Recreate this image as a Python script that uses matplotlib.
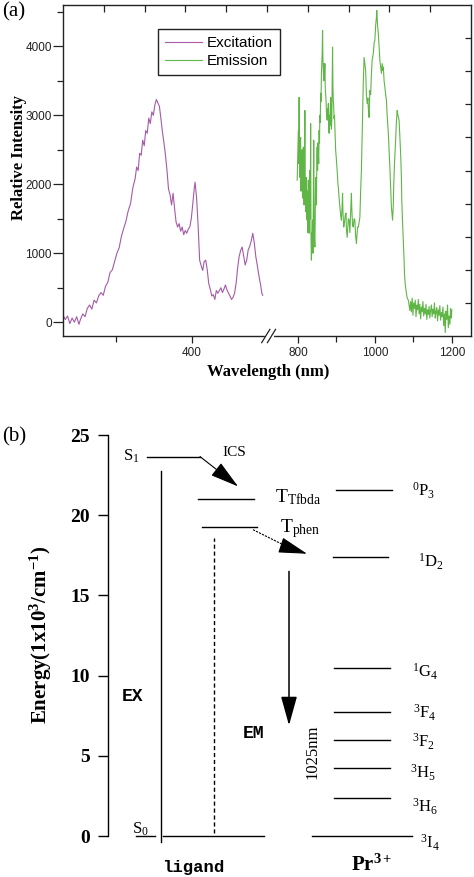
import numpy as np
import matplotlib
matplotlib.use("Agg")
import matplotlib.pyplot as plt
from matplotlib.ticker import MultipleLocator

plt.rcParams['mathtext.fontset'] = 'custom'
plt.rcParams['mathtext.rm'] = 'Liberation Serif'
plt.rcParams['mathtext.it'] = 'Liberation Serif:italic'
plt.rcParams['mathtext.bf'] = 'Liberation Serif:bold'

"""Spectra (read off the original figure)"""
exc_wl = [230, 233, 236, 239, 242, 245, 248, 251, 253,
          256, 259, 262, 265, 268, 271, 274, 277, 280, 283, 286, 289, 292, 295, 298, 301,
          304, 307, 310, 313, 316, 319, 322, 325,
          327, 329, 331, 333, 335, 337, 339, 341, 343, 345, 347, 349, 351, 353, 355, 357,
          359, 361, 363, 365, 367, 369, 371, 373, 375, 377, 379, 381, 383, 385, 387, 389,
          391, 393, 395, 397, 399, 401,
          403, 404, 406,
          408, 410, 412, 414, 416, 418, 420, 422, 424, 426, 428, 430, 432, 434, 436, 438,
          440, 442, 444, 446, 448, 450, 452, 454, 456, 458, 460, 462, 464, 466, 468, 470,
          472, 474, 476, 478, 480, 482, 484, 486, 488, 490, 492,
          493]
exc_int = [100, 40, 90, -20, 60, 0, 80, -30, 40,
           120, 80, 200, 250, 190, 320, 280, 380, 430, 390, 520, 580, 720, 760, 880, 1000,
           1080, 1250, 1360, 1470, 1620, 1720, 1950, 2080,
           2250, 2200, 2450, 2420, 2640, 2560, 2780, 2740, 2960, 2880, 3050, 3000, 3150, 3230, 3180, 3130,
           2950, 2760, 2600, 2420, 2200, 1930, 1850, 1700, 1870, 1650, 1450, 1380, 1430, 1320, 1380, 1270,
           1330, 1290, 1350, 1380, 1500, 1720,
           1950, 2030, 1800,
           1400, 900, 820, 750, 880, 900, 760, 560, 480, 380, 400, 330, 460, 420, 460, 500,
           430, 480, 540, 470, 420, 380, 330, 360, 420, 560, 780, 950, 1040, 1090, 960, 830,
           900, 1050, 1100, 1180, 1290, 1150, 950, 820, 680, 560, 420,
           390]

em_wl = [798, 800, 801, 802, 803, 804, 805, 806, 807, 808, 809, 810, 811, 812, 813, 814,
         815, 816, 817, 818, 819, 820, 821, 822, 823, 824, 825, 826, 827, 828, 829, 830,
         831, 832, 833, 834, 835, 836, 837, 838, 839, 840, 841, 842, 843, 844, 845, 846,
         847, 848, 849, 850, 851, 852, 853, 854, 855, 856, 857, 858, 859, 860, 861, 862,
         863, 864, 865, 866, 867, 868, 869, 870, 871, 872, 873, 874, 875, 876, 877, 878,
         879, 880, 881, 882, 883, 884, 885, 886, 887, 888, 889, 890, 891, 892, 893, 894,
         895, 896, 897, 898, 900, 902, 904, 905, 907, 909, 911, 913, 915, 916, 917, 919,
         921, 923, 925, 926, 928, 930, 931, 933, 935, 937, 939, 940, 942, 944, 946, 948,
         950, 952, 954, 955, 957, 959, 961, 963, 965, 967, 969, 970, 972, 974, 976, 978,
         980, 982, 983, 985, 987, 989, 991, 993, 996, 998, 1000, 1002, 1004, 1005, 1007, 1009,
         1011, 1013, 1015, 1017, 1019, 1021, 1022, 1024, 1026, 1028, 1030, 1032, 1035, 1037, 1039, 1041,
         1043, 1046, 1048, 1049, 1051, 1054, 1056, 1058, 1060, 1063, 1065, 1067, 1069, 1070, 1072, 1074,
         1076, 1077, 1079, 1082, 1084, 1087, 1089, 1091, 1093, 1095, 1097, 1099, 1101, 1103, 1105, 1107,
         1109, 1111, 1113, 1115, 1117, 1119, 1121, 1123, 1125, 1127, 1129, 1131, 1133, 1135, 1137, 1139,
         1141, 1143, 1145, 1147, 1149, 1151, 1153, 1155, 1157, 1159, 1161, 1163, 1165, 1167, 1169, 1171,
         1173, 1175, 1177, 1179, 1181, 1183, 1185, 1187, 1189, 1191, 1193, 1195, 1197, 1199, 1200]
em_int = [2060, 2500, 2780, 2300, 3260, 2400, 2100, 2600, 2680, 1900, 2300, 2050, 2500, 1800, 2200, 2540,
          1960, 1700, 2300, 3070, 2000, 1600, 1720, 2100, 1500, 1480, 1900, 1300, 2060, 1400, 1290, 1700,
          2200, 1500, 2880, 1200, 900, 1300, 1100, 1480, 1000, 1800, 2640, 1500, 1200, 1090, 1600, 2100,
          1960, 1700, 2300, 2540, 2200, 2600, 2450, 2300, 2780, 2600, 3000, 2900, 3320, 3200, 3600, 3750,
          3900, 4230, 3800, 3650, 3500, 3750, 3600, 3750, 3400, 3300, 3220, 3050, 3000, 2930, 3100, 3000,
          3170, 2900, 2740, 3000, 2850, 3100, 3260, 3000, 2800, 2930, 3500, 3990, 3400, 3200, 3120, 2950,
          3000, 2830, 2700, 2500, 2350, 2200, 2000, 1960, 1800, 1670, 1550, 1480, 1700, 1870, 1600, 1380,
          1450, 1550, 1580, 1350, 1230, 1400, 1500, 1480, 1300, 1600, 1870, 1650, 1400, 1380, 1500, 1480,
          1250, 1140, 1300, 1380, 1380, 1450, 1520, 1900, 2200, 2700, 3170, 3500, 3840, 3750, 3650, 3300,
          3170, 3250, 3100, 2970, 3360, 3300, 3600, 3800, 3900, 4050, 4090, 4300, 4420, 4520, 4300, 4190,
          4000, 3800, 3700, 3610, 3750, 3650, 3700, 3500, 3410, 3300, 3220, 3000, 2740, 2500, 2250, 1950,
          1670, 1480, 1700, 1960, 2300, 2640, 2900, 3070, 3000, 2930, 2700, 2450, 2100, 1770, 1450, 1190,
          900, 710, 550, 420, 350, 320, 250, 170, 300, 150, 350, 100, 280, 200, 320, 80,
          250, 180, 330, 120, 260, 50, 220, 150, 300, 90, 200, 120, 260, 40, 180, 110,
          230, 60, 170, 250, 80, 190, 120, 280, 60, 150, 210, 20, 180, 100, 240, 30,
          140, 80, 220, -50, 120, -150, 160, 40, 250, -80, 90, -30, 200, 60, 180]

x_ticks = [400, 800, 1000, 1200]
x_tick_labels = ['400', '800', '1000', '1200']
x_minor = [300, 900, 1100]
y_ticks = [0, 1000, 2000, 3000, 4000]

"""Energy levels (1x10^3 cm^-1)"""
lig_names = ['S1', 'T_Tfbda', 'T_phen', 'S0']
lig_energy = [23.66, 20.99, 19.25, 0.0]
pr_names = [r'$^{0}\mathrm{P}_{3}$', r'$^{1}\mathrm{D}_{2}$', r'$^{1}\mathrm{G}_{4}$',
            r'$^{3}\mathrm{F}_{4}$', r'$^{3}\mathrm{F}_{2}$', r'$^{3}\mathrm{H}_{5}$',
            r'$^{3}\mathrm{H}_{6}$', r'$^{3}\mathrm{I}_{4}$']
pr_energy = [21.6, 17.38, 10.48, 7.74, 6.0, 4.26, 2.39, 0.0]
energy_ticks = [0, 5, 10, 15, 20, 25]

exc_color = '#a65aa8'
em_color = '#5fb646'


# broken wavelength axis: 230-500 nm and 722-1250 nm
def fwd(x):
    x = np.asarray(x, dtype=float)
    return np.where(x <= 500, (x - 230) * 0.76,
                    np.where(x >= 722, 205.2 + (x - 722) * 0.385, 205.2))


def inv(y):
    y = np.asarray(y, dtype=float)
    return np.where(y <= 205.2, 230 + y / 0.76, 722 + (y - 205.2) / 0.385)


fig = plt.figure(figsize=(4.74, 8.77), dpi=100)

"""Panel (a): spectra"""
ax = fig.add_axes([63/474, 1 - 336/877, 408/474, 331/877])
ax.set_xscale('function', functions=(fwd, inv))
ax.plot(exc_wl, exc_int, color=exc_color, lw=0.8, label='Excitation')
ax.plot(em_wl, em_int, color=em_color, lw=0.8, label='Emission')
ax.set_xlim(230, 1250)
ax.set_ylim(-200, 4600)
ax.set_xticks(x_ticks, labels=x_tick_labels)
ax.set_xticks(x_minor, minor=True)
ax.set_yticks(y_ticks)
ax.yaxis.set_minor_locator(MultipleLocator(500))
ax.tick_params(axis='both', which='both', direction='out', width=0.9, labelsize=8.5, colors='#222222')
ax.tick_params(axis='y', which='major', length=7, pad=1)
ax.tick_params(axis='y', which='minor', length=4)
ax.tick_params(axis='x', which='major', length=5, pad=3)
ax.tick_params(axis='x', which='minor', length=4)
for lbl in ax.get_xticklabels() + ax.get_yticklabels():
    lbl.set_fontfamily('Liberation Sans')
for s in ax.spines.values():
    s.set_linewidth(1.0)
    s.set_color('#222222')

ax_top = ax.twiny()
ax_top.set_xlim(0, 10)
ax_top.set_xticks(np.arange(1, 10))
ax_top.tick_params(axis='x', direction='in', length=5, width=0.9, labeltop=False, colors='#222222')
ax_right = ax.twinx()
ax_right.set_ylim(0, 10)
ax_right.set_yticks(np.arange(1, 10))
ax_right.tick_params(axis='y', direction='in', length=4, width=0.9, labelright=False, colors='#222222')
for a in (ax_top, ax_right):
    for s in a.spines.values():
        s.set_visible(False)

# break marks on the bottom axis
ax.plot([0.499, 0.512], [0, 0], transform=ax.transAxes, color='white', lw=3,
        clip_on=False, zorder=5)
ax.plot([0.487, 0.507], [-0.02, 0.02], transform=ax.transAxes, color='#222222', lw=0.9,
        clip_on=False, zorder=6)
ax.plot([0.501, 0.521], [-0.02, 0.02], transform=ax.transAxes, color='#222222', lw=0.9,
        clip_on=False, zorder=6)

leg = ax.legend(loc='upper left', bbox_to_anchor=(0.233, 0.927), borderaxespad=0,
                fancybox=False, edgecolor='#222222', framealpha=1,
                prop={'family': 'Liberation Sans', 'size': 11},
                handlelength=2.4, handletextpad=0.35, borderpad=0.45, labelspacing=0.25)
leg.get_frame().set_linewidth(1.0)

fig.text(2/474, 1 - 12/877, '(a)', family='Liberation Serif', size=15, ha='left', va='center')
fig.text(19/474, 1 - 157/877, 'Relative Intensity', rotation=90, ha='center', va='center',
         family='Liberation Serif', weight='bold', size=12)
fig.text(268/474, 1 - 372/877, 'Wavelength (nm)', ha='center', va='center',
         family='Liberation Serif', weight='bold', size=12)

"""Panel (b): energy level diagram"""
axb = fig.add_axes([108/474, 0, 366/474, 457/877])
axb.set_xlim(108, 474)
axb.set_ylim(-2.556, 25.94)
for side in ('top', 'right', 'bottom'):
    axb.spines[side].set_visible(False)
axb.spines['left'].set_bounds(0, 25)
axb.spines['left'].set_linewidth(1.0)
axb.set_xticks([])
axb.set_yticks(energy_ticks)
axb.tick_params(axis='y', direction='out', length=7, width=1.0, pad=6)
for lbl in axb.get_yticklabels():
    lbl.set_fontfamily('Liberation Serif')
    lbl.set_fontweight('bold')
    lbl.set_fontsize(14)

serif = 'Liberation Serif'
mono = 'Liberation Mono'

# ligand levels (x spans are layout)
lig_x = [(147, 200), (198, 254), (202, 257), (163, 264)]
for e, (x0, x1) in zip(lig_energy, lig_x):
    axb.plot([x0, x1], [e, e], color='k', lw=1.0)
axb.plot([136, 155], [lig_energy[3], lig_energy[3]], color='k', lw=1.0)

axb.text(123, lig_energy[0], r'S$_{1}$', family=serif, size=12, ha='left', va='center')
axb.text(132, lig_energy[3] + 0.15, r'S$_{0}$', family=serif, size=12, ha='left', va='baseline')
axb.text(275, lig_energy[1] - 0.2, r'T$_{\mathrm{Tfbda}}$', family=serif, size=14,
         ha='left', va='baseline')
axb.text(280, lig_energy[2] - 0.3, r'T$_{\mathrm{phen}}$', family=serif, size=14,
         ha='left', va='baseline')
axb.text(222, 23.9, 'ICS', family=serif, size=11, ha='left', va='center')

# excitation line and dashed line
axb.plot([161, 161], [-0.35, 22.75], color='k', lw=1.0)
axb.plot([214, 214], [0.2, 18.6], color='k', lw=1.0, ls=(0, (3, 2)))
axb.text(122, 8.67, 'EX', family=mono, weight='bold', size=13, ha='left', va='center')

# arrows
head = '-|>,head_length=0.9,head_width=0.25'
arrow_kw = dict(arrowstyle=head, mutation_scale=20, color='k', fc='k', ec='k',
                shrinkA=0, shrinkB=0)
axb.annotate('', xy=(238, 21.8), xytext=(200, lig_energy[0]),
             arrowprops=dict(lw=0.8, **arrow_kw))
axb.plot([253, 290], [19.1, 17.95], color='k', lw=0.8, ls=(0, (2, 1)))
axb.annotate('', xy=(307, 17.6), xytext=(285, 18.05),
             arrowprops=dict(lw=0.8, **arrow_kw))
axb.annotate('', xy=(289, 6.9), xytext=(289, 16.5),
             arrowprops=dict(lw=1.1, **arrow_kw))
axb.text(243, 6.37, 'EM', family=mono, weight='bold', size=13, ha='left', va='center')
axb.text(312, 5.25, '1025nm', family=serif, size=12, rotation=90, ha='center', va='center')

# Pr3+ levels
pr_x = [(336, 392), (333, 388), (334, 390), (334, 390), (334, 390), (334, 390), (334, 390),
        (312, 412)]
pr_label_x = [412, 418, 412, 413, 412, 410, 412, 420]
pr_label_dy = [-0.1, -0.3, -0.25, -0.06, -0.12, -0.3, -0.56, -0.45]
for e, (x0, x1), name, lx, dy in zip(pr_energy, pr_x, pr_names, pr_label_x, pr_label_dy):
    axb.plot([x0, x1], [e, e], color='k', lw=1.0)
    axb.text(lx, e + dy, name, size=12, ha='left', va='center')

axb.text(193, -2.25, 'ligand', family=mono, weight='bold', size=12.5, ha='center', va='baseline')
axb.text(372, -2.2, r'Pr$^{\mathbf{3+}}$', family=serif, weight='bold', size=15,
         ha='center', va='baseline')

fig.text(2/474, 1 - 437/877, '(b)', family='Liberation Serif', size=15, ha='left', va='center')
fig.text(41/474, 1 - 635/877, r'Energy(1x10$^{\mathbf{3}}$/cm$^{\mathbf{-1}}$)', rotation=90,
         ha='center', va='center', family='Liberation Serif', weight='bold', size=15)

fig.savefig('out.png', dpi=100)
